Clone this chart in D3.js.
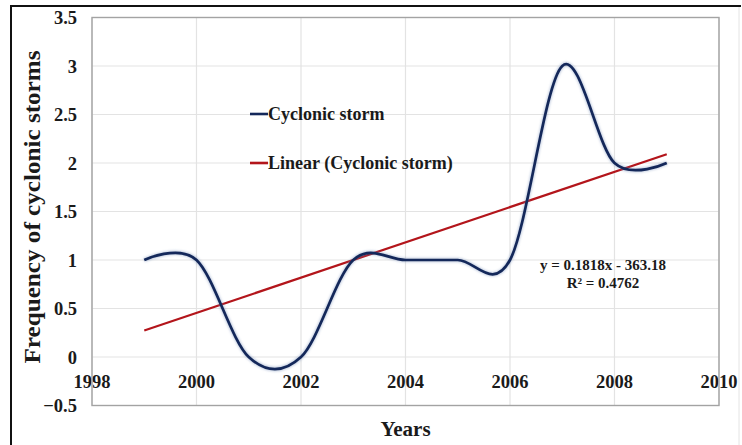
<!DOCTYPE html>
<html>
<head>
<meta charset="utf-8">
<script src="https://cdn.jsdelivr.net/npm/d3@7"></script>
<style>
  html, body { margin: 0; padding: 0; background: #fff; }
  svg { display: block; }
  text { font-family: "Liberation Serif", "Times New Roman", serif; font-weight: bold; fill: #1a1a1a; }
</style>
</head>
<body>
<svg id="chart" width="742" height="445"></svg>
<script>
// Annual count of cyclonic storms
const years  = [1999, 2000, 2001, 2002, 2003, 2004, 2005, 2006, 2007, 2008, 2009];
const storms = [1, 1, 0, 0, 1, 1, 1, 1, 3, 2, 2];

// Axis ticks
const xTicks = [1998, 2000, 2002, 2004, 2006, 2008, 2010];
const yTicks = [-0.5, 0, 0.5, 1, 1.5, 2, 2.5, 3, 3.5];

// Legend entries
const seriesName = "Cyclonic storm";
const trendName = "Linear (Cyclonic storm)";

const svg = d3.select("#chart");
const W = 742, H = 445;
const plot = { left: 92, right: 719, top: 17.5, bottom: 405.5 };

const x = d3.scaleLinear().domain([1998, 2010]).range([plot.left, plot.right]);
const y = d3.scaleLinear().domain([-0.5, 3.5]).range([plot.bottom, plot.top]);

// Least-squares trend line
const n = years.length;
const mx = d3.mean(years), my = d3.mean(storms);
const sxy = d3.sum(years, (v, i) => (v - mx) * (storms[i] - my));
const sxx = d3.sum(years, v => (v - mx) ** 2);
const syy = d3.sum(storms, v => (v - my) ** 2);
const slope = sxy / sxx;
const intercept = my - slope * mx;
const r2 = (sxy * sxy) / (sxx * syy);

// Outer frame
svg.append("path")
  .attr("d", `M11,${H + 5} V6 H741`)
  .attr("fill", "none").attr("stroke", "#111").attr("stroke-width", 2);
svg.append("line")
  .attr("x1", 739).attr("x2", 739).attr("y1", 7).attr("y2", H)
  .attr("stroke", "#e4e4e4").attr("stroke-width", 1);

// Gridlines
const grid = svg.append("g");
grid.selectAll(".hg").data(yTicks).join("line")
  .attr("x1", plot.left).attr("x2", plot.right)
  .attr("y1", d => y(d)).attr("y2", d => y(d))
  .attr("stroke", "#e3e3e3").attr("stroke-width", 1.2);
grid.selectAll(".vg").data(xTicks).join("line")
  .attr("y1", plot.top).attr("y2", plot.bottom)
  .attr("x1", d => x(d)).attr("x2", d => x(d))
  .attr("stroke", "#e3e3e3").attr("stroke-width", 1.2);

// Y tick labels
svg.append("g").selectAll("text").data(yTicks).join("text")
  .attr("x", 77).attr("y", d => y(d) + 6.5)
  .attr("text-anchor", "end").attr("font-size", 18.5)
  .text(d => d3.format("")(d));

// X tick labels, sitting just below the zero line
svg.append("g").selectAll("text").data(xTicks).join("text")
  .attr("x", d => x(d)).attr("y", y(0) + 31)
  .attr("text-anchor", "middle").attr("font-size", 18.5)
  .text(d => d);

// Plot border
svg.append("rect")
  .attr("x", plot.left).attr("y", plot.top)
  .attr("width", plot.right - plot.left).attr("height", plot.bottom - plot.top)
  .attr("fill", "none").attr("stroke", "#a3a3a3").attr("stroke-width", 1.4);

// Smoothed series with a soft glow
const defs = svg.append("defs");
defs.append("filter").attr("id", "glow").attr("x", "-5%").attr("y", "-5%").attr("width", "110%").attr("height", "110%")
  .append("feGaussianBlur").attr("stdDeviation", 1.1);

const line = d3.line()
  .x((d, i) => x(years[i]))
  .y(d => y(d))
  .curve(d3.curveCardinal.tension(0));

// Trend line
svg.append("line")
  .attr("x1", x(years[0])).attr("y1", y(slope * years[0] + intercept))
  .attr("x2", x(years[n - 1])).attr("y2", y(slope * years[n - 1] + intercept))
  .attr("stroke", "#b3151b").attr("stroke-width", 2.2);

svg.append("path").datum(storms)
  .attr("d", line).attr("fill", "none")
  .attr("stroke", "#6d86b5").attr("stroke-opacity", 0.4)
  .attr("stroke-width", 4.5).attr("filter", "url(#glow)");
svg.append("path").datum(storms)
  .attr("d", line).attr("fill", "none")
  .attr("stroke", "#14285a").attr("stroke-width", 2.7);

// Legend
const legend = [
  { name: seriesName, color: "#14285a", y: 114 },
  { name: trendName, color: "#b3151b", y: 163 }
];
const lg = svg.append("g");
lg.selectAll("line").data(legend).join("line")
  .attr("x1", 250).attr("x2", 268)
  .attr("y1", d => d.y).attr("y2", d => d.y)
  .attr("stroke", d => d.color).attr("stroke-width", 2.6);
lg.selectAll("text").data(legend).join("text")
  .attr("x", 268).attr("y", d => d.y + 6)
  .attr("font-size", 18)
  .text(d => d.name);

// Trend equation
const sign = intercept < 0 ? "-" : "+";
svg.append("text")
  .attr("x", 603).attr("y", 270).attr("text-anchor", "middle").attr("font-size", 15)
  .text(`y = ${slope.toFixed(4)}x ${sign} ${Math.abs(intercept).toFixed(2)}`);
svg.append("text")
  .attr("x", 603).attr("y", 288).attr("text-anchor", "middle").attr("font-size", 15)
  .text(`R² = ${r2.toFixed(4)}`);

// Axis titles
svg.append("text")
  .attr("transform", `translate(40,207) rotate(-90)`)
  .attr("text-anchor", "middle").attr("font-size", 24)
  .attr("textLength", 313).attr("lengthAdjust", "spacingAndGlyphs")
  .text("Frequency of cyclonic storms");
svg.append("text")
  .attr("x", (plot.left + plot.right) / 2).attr("y", 436)
  .attr("text-anchor", "middle").attr("font-size", 21)
  .text("Years");
</script>
</body>
</html>
